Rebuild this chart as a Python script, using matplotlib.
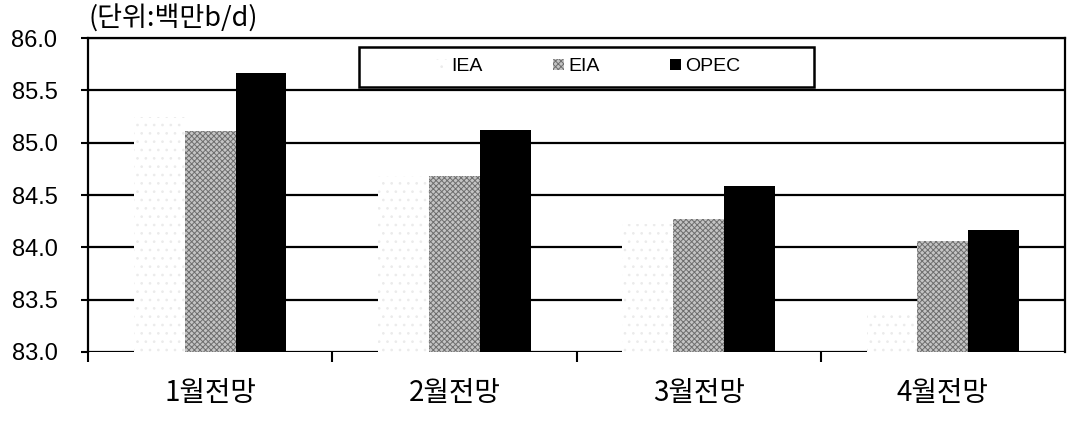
import numpy as np
import matplotlib
matplotlib.use("Agg")
import matplotlib.pyplot as plt
from matplotlib.patches import Rectangle

plt.rcParams['font.family'] = ['Liberation Sans', 'Noto Sans CJK KR', 'DejaVu Sans']
plt.rcParams['hatch.linewidth'] = 0.7

categories = ['1월전망', '2월전망', '3월전망', '4월전망']
iea = [85.25, 84.68, 84.22, 83.38]
eia = [85.11, 84.68, 84.27, 84.06]
opec = [85.67, 85.12, 84.59, 84.17]
yticks = [83.0, 83.5, 84.0, 84.5, 85.0, 85.5, 86.0]

x = np.arange(len(categories))
w = 0.208

fig = plt.figure(figsize=(10.68, 4.21), dpi=100)
ax = fig.add_axes([0.0824, 0.1639, 0.9148, 0.7458])

ax.bar(x - w, np.array(iea) - 83.0, w, bottom=83.0, facecolor='white',
       edgecolor='#ebebeb', hatch='..', linewidth=0, label='IEA', zorder=2)
ax.bar(x, np.array(eia) - 83.0, w, bottom=83.0, facecolor='#c4c4c4',
       edgecolor='#6e6e6e', hatch='xxxxxx', linewidth=0, label='EIA', zorder=2)
ax.bar(x + w, np.array(opec) - 83.0, w, bottom=83.0, facecolor='black',
       edgecolor='black', linewidth=0, label='OPEC', zorder=2)

ax.set_xlim(-0.5, 3.5)
ax.set_ylim(83.0, 86.0)
ax.set_yticks(yticks)
ax.set_yticklabels([f'{v:.1f}' for v in yticks], fontsize=17)
for v in yticks:
    ax.axhline(v, color='black', linewidth=1.6, zorder=1)

ax.set_xticks(x)
ax.set_xticklabels(categories, family=['Noto Sans CJK KR'], fontsize=20,
                   fontweight='medium')
ax.tick_params(axis='x', which='major', length=0, pad=19)
ax.set_xticks([-0.5, 0.5, 1.5, 2.5], minor=True)
ax.tick_params(axis='x', which='minor', length=7, width=1.5, direction='out')
ax.tick_params(axis='y', length=5, width=1.5, direction='out', pad=17)

for s in ['left', 'top', 'right']:
    ax.spines[s].set_linewidth(1.6)
ax.spines['bottom'].set_visible(False)

# legend box
ax.add_patch(Rectangle((0.2774, 0.844), 0.4657, 0.1274, transform=ax.transAxes,
                       facecolor='white', edgecolor='black', linewidth=1.8,
                       zorder=4))
leg = ax.legend(loc='center', ncol=3, bbox_to_anchor=(0.512, 0.908),
                fontsize=14, frameon=False, handlelength=0.55,
                handleheight=0.55, handletextpad=0.25, columnspacing=3.6,
                borderaxespad=0)
leg.set_zorder(5)

fig.text(0.0824, 0.936, '(단위:백만b/d)', family=['Noto Sans CJK KR'],
         fontsize=19.5, va='baseline', ha='left')

fig.savefig('out.png', dpi=100)
